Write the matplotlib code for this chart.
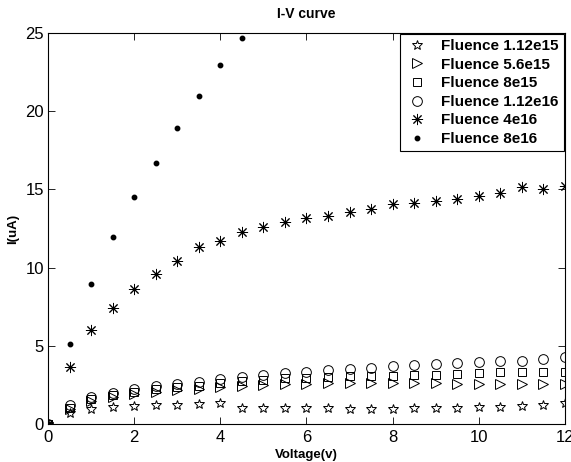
import numpy as np
import matplotlib
matplotlib.use("Agg")
import matplotlib.pyplot as plt

plt.rcParams['font.family'] = ['Liberation Sans', 'DejaVu Sans']

voltage = [0, 0.5, 1, 1.5, 2, 2.5, 3, 3.5, 4, 4.5, 5, 5.5, 6, 6.5, 7, 7.5,
           8, 8.5, 9, 9.5, 10, 10.5, 11, 11.5, 12]

i_112e15 = [0, 0.72, 0.94, 1.07, 1.17, 1.21, 1.21, 1.28, 1.32, 1.04, 1.04, 1.04,
            1.04, 1.00, 0.94, 0.94, 0.94, 1.00, 1.00, 1.00, 1.11, 1.11, 1.15, 1.21, 1.32]
i_56e15 = [0, 0.95, 1.49, 1.71, 1.90, 2.05, 2.17, 2.26, 2.39, 2.45, 2.49, 2.56,
           2.56, 2.60, 2.60, 2.64, 2.64, 2.64, 2.60, 2.56, 2.56, 2.54, 2.54, 2.54, 2.54]
i_8e15 = [0, 1.05, 1.58, 1.85, 2.05, 2.22, 2.35, 2.45, 2.64, 2.77, 2.81, 2.92,
          2.96, 3.03, 3.07, 3.07, 3.07, 3.13, 3.13, 3.18, 3.24, 3.30, 3.30, 3.30, 3.30]
i_112e16 = [0, 1.20, 1.70, 2.00, 2.22, 2.41, 2.54, 2.67, 2.88, 3.03, 3.13, 3.24,
            3.30, 3.45, 3.50, 3.60, 3.71, 3.77, 3.84, 3.88, 3.98, 4.03, 4.05, 4.13, 4.30]
i_4e16 = [0, 3.63, 5.99, 7.40, 8.61, 9.59, 10.44, 11.30, 11.68, 12.26, 12.60, 12.93,
          13.17, 13.30, 13.54, 13.75, 14.05, 14.11, 14.24, 14.39, 14.58, 14.75, 15.17, 15.05, 15.22]
voltage_8e16 = [0, 0.5, 1, 1.5, 2, 2.5, 3, 3.5, 4, 4.5]
i_8e16 = [0, 5.10, 8.95, 11.94, 14.53, 16.71, 18.91, 20.99, 22.93, 24.68]

labels = ['Fluence 1.12e15', 'Fluence 5.6e15', 'Fluence 8e15',
          'Fluence 1.12e16', 'Fluence 4e16', 'Fluence 8e16']

fig = plt.figure(figsize=(5.71, 4.62), dpi=100)
ax = fig.add_axes([0.084, 0.0823, 0.9055, 0.8463])

lw = 0.7
ax.plot(voltage, i_112e15, linestyle='none', marker='*', markersize=7,
        markerfacecolor='none', markeredgecolor='black', markeredgewidth=lw, label=labels[0])
ax.plot(voltage, i_56e15, linestyle='none', marker='>', markersize=6.5,
        markerfacecolor='none', markeredgecolor='black', markeredgewidth=lw, label=labels[1])
ax.plot(voltage, i_8e15, linestyle='none', marker='s', markersize=5.5,
        markerfacecolor='none', markeredgecolor='black', markeredgewidth=lw, label=labels[2])
ax.plot(voltage, i_112e16, linestyle='none', marker='o', markersize=7,
        markerfacecolor='none', markeredgecolor='black', markeredgewidth=lw, label=labels[3])
ax.plot(voltage, i_4e16, linestyle='none', marker=(8, 2, 0), markersize=8,
        color='black', markeredgewidth=lw, label=labels[4])
ax.plot(voltage_8e16, i_8e16, linestyle='none', marker='o', markersize=3.2,
        color='black', label=labels[5])

ax.set_xlim(0, 12)
ax.set_ylim(0, 25)
ax.set_xticks([0, 2, 4, 6, 8, 10, 12])
ax.set_yticks([0, 5, 10, 15, 20, 25])
ax.tick_params(direction='in', top=True, right=True, labelsize=12, length=5, width=0.6,
               pad=3)
ax.tick_params(axis='x', pad=4.5)
for s in ax.spines.values():
    s.set_linewidth(0.8)

ax.set_title('I-V curve', fontsize=10, fontweight='bold', pad=11)
ax.set_xlabel('Voltage(v)', fontsize=9.5, fontweight='bold', labelpad=3)
ax.set_ylabel('I(uA)', fontsize=9.5, fontweight='bold', labelpad=4)

leg = ax.legend(loc='upper right', prop={'weight': 'bold', 'size': 11},
                fancybox=False, edgecolor='black', framealpha=1,
                borderaxespad=0.05, handlelength=1.5, handletextpad=0.85,
                labelspacing=0.3, borderpad=0.35)
leg.get_frame().set_linewidth(0.8)

fig.savefig('out.png', dpi=100)
